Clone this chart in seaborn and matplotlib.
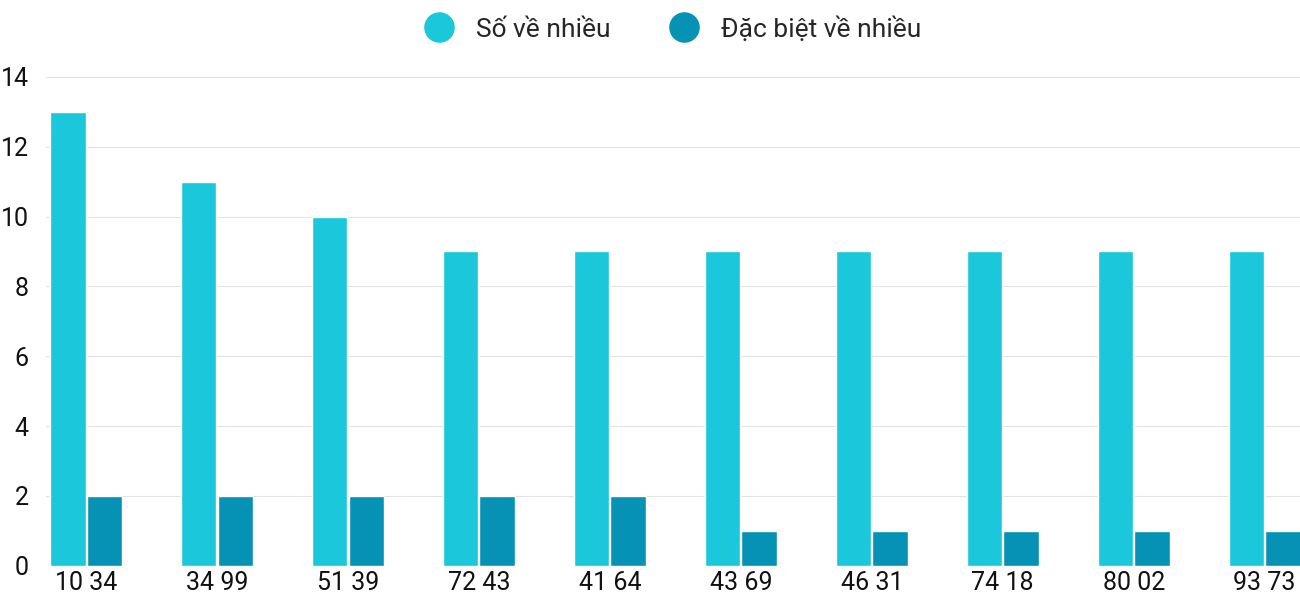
import matplotlib.pyplot as plt
import seaborn as sns
import pandas as pd
from matplotlib.lines import Line2D

# ---- Data ----
pairs = ["10 34", "34 99", "51 39", "72 43", "41 64", "43 69", "46 31", "74 18", "80 02", "93 73"]
so_ve_nhieu = [13, 11, 10, 9, 9, 9, 9, 9, 9, 9]
dac_biet = [2, 2, 2, 2, 2, 1, 1, 1, 1, 1]
series_names = ["Số về nhiều", "Đặc biệt về nhiều"]
colors = ["#1BC8DB", "#0592B5"]

df = pd.DataFrame({
    "pair": pairs * 2,
    "value": so_ve_nhieu + dac_biet,
    "series": [series_names[0]] * len(pairs) + [series_names[1]] * len(pairs),
})

sns.set_style("white")
plt.rcParams["font.family"] = ["Roboto", "DejaVu Sans"]

fig = plt.figure(figsize=(13, 6), dpi=100)
ax = fig.add_axes([0.035, 0.057, 0.965, 0.815])

sns.barplot(data=df, x="pair", y="value", hue="series", palette=colors,
            width=0.56, gap=0.03, ax=ax, legend=False, saturation=1)

ax.set_ylim(0, 14)
ax.set_yticks(range(0, 15, 2))
ax.set_xlim(-0.31, 9.27)
ax.grid(axis="y", color="#E3E3E3", linewidth=0.8)
ax.set_axisbelow(True)
for s in ax.spines.values():
    s.set_visible(False)
ax.set_xlabel("")
ax.set_ylabel("")
ax.tick_params(axis="both", length=0, labelsize=18, colors="#111111")
ax.tick_params(axis="y", pad=12)
ax.tick_params(axis="x", pad=4)

handles = [Line2D([], [], marker="o", linestyle="", markersize=21, color=c) for c in colors]
fig.legend(handles, series_names, loc="center", bbox_to_anchor=(0.513, 0.952), ncol=2,
           frameon=False, fontsize=19, handletextpad=0.4, columnspacing=1.8)

plt.savefig("out.png", dpi=100)
plt.close()
